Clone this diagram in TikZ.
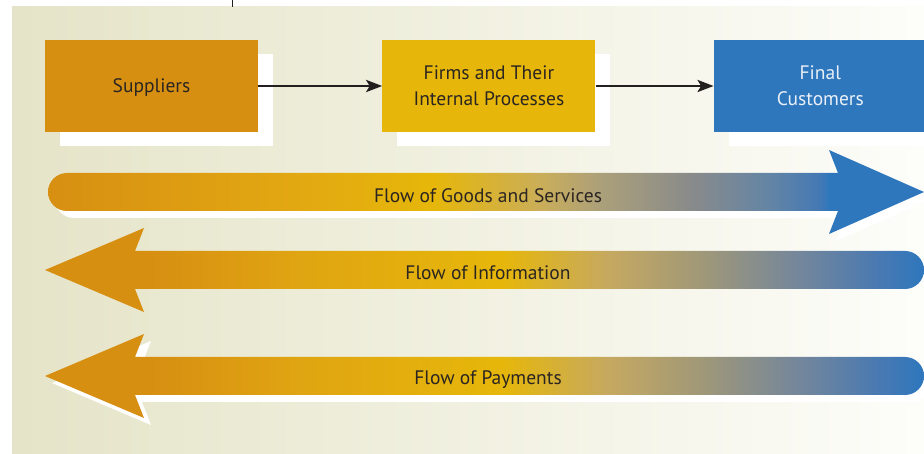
\documentclass[tikz,border=0pt]{standalone}
\usepackage{fontspec}
\setmainfont{PT Sans}
\usetikzlibrary{positioning,arrows.meta,shadows}

\definecolor{bgleft}{HTML}{E5E4C8}
\definecolor{bgright}{HTML}{FDFDFA}
\definecolor{darkline}{HTML}{231F1E}
\definecolor{supplierorange}{HTML}{D78F12}
\definecolor{firmyellow}{HTML}{E6B70A}
\definecolor{customerblue}{HTML}{2E77BD}
\definecolor{textdark}{HTML}{2B2522}
\definecolor{textlight}{HTML}{EAF0F7}

% horizontal colour runs of the big arrows (path box = 25bp..75bp)
\pgfdeclarehorizontalshading{rightflow}{100bp}{color(0bp)=(supplierorange); color(25bp)=(supplierorange);
  color(39bp)=(rgb,255:red,226;green,168;blue,18); color(47bp)=(firmyellow);
  color(53bp)=(rgb,255:red,203;green,174;blue,88); color(56.5bp)=(rgb,255:red,172;green,160;blue,122);
  color(62bp)=(rgb,255:red,135;green,138;blue,140); color(66bp)=(rgb,255:red,101;green,133;blue,164);
  color(69bp)=(rgb,255:red,69;green,121;blue,180); color(69.6bp)=(customerblue); color(100bp)=(customerblue)}
\pgfdeclarehorizontalshading{leftflow}{100bp}{color(0bp)=(supplierorange); color(31bp)=(supplierorange);
  color(39.5bp)=(rgb,255:red,224;green,165;blue,18); color(51bp)=(firmyellow);
  color(57bp)=(rgb,255:red,198;green,169;blue,96); color(62.3bp)=(rgb,255:red,160;green,152;blue,120);
  color(68bp)=(rgb,255:red,115;green,134;blue,156); color(72.5bp)=(rgb,255:red,72;green,121;blue,178);
  color(75bp)=(customerblue); color(100bp)=(customerblue)}

% outlines, #1 = centre line of the bar
\newcommand{\forwardflow}[1]{(67,-#1+19) arc[start angle=90,end angle=270,radius=19] -- (838,-#1-19) -- (829,-#1-42) -- (924,-#1) -- (829,-#1+42) -- (838,-#1+19) -- cycle}
\newcommand{\backwardflow}[1]{(905,-#1+19) arc[start angle=90,end angle=-90,radius=19] -- (135,-#1-19) -- (144,-#1-42) -- (45,-#1) -- (144,-#1+42) -- (135,-#1+19) -- cycle}

\tikzset{
	flowbox/.style ={rectangle, minimum width=213bp, minimum height=92bp, inner sep=0pt, align=center, text=textdark,
		font=\fontsize{19.5bp}{26bp}\selectfont, drop shadow={shadow xshift=15bp, shadow yshift=-14bp, fill=white, opacity=1}},
	flowline/.style = {-{Stealth[length=16bp,width=12bp,inset=3.5bp]}, line width=2.8bp, draw=darkline},
	flowlabel/.style = {anchor=base, inner sep=0pt, text=textdark, font=\fontsize{19.5bp}{26bp}\selectfont}
}

\begin{document}
\begin{tikzpicture}[x=1bp,y=1bp]
	\useasboundingbox (0,0) rectangle (924,-454);
	\shade[left color=bgleft, right color=bgright] (12,-7) rectangle (924,-454);
	\draw[darkline, line width=1.4bp] (232.5,0) -- (232.5,-7);
	% the three parties
	\node[flowbox, fill=supplierorange, text depth=0pt] (1) at (151.5,-86) {Suppliers};
	\node[flowbox, fill=firmyellow, right=124bp of 1] (2) {Firms and Their\\Internal Processes};
	\node[flowbox, fill=customerblue, text=textlight, right=118bp of 2] (3) {Final\\Customers};
	\draw[flowline] (1) -- (2);
	\draw[flowline] (2) -- (3);
	% the flows
	\fill[white, shift={(7,-7)}] \forwardflow{192};
	\shade[shading=rightflow] \forwardflow{192};
	\shade[shading=leftflow] \backwardflow{270};
	\fill[white, shift={(7,-7)}] \backwardflow{376};
	\shade[shading=leftflow] \backwardflow{376};
	\node[flowlabel] (4) at (488,-203) {Flow of Goods and Services};
	\node[flowlabel] (5) at (488,-280) {Flow of Information};
	\node[flowlabel] (6) at (488,-385) {Flow of Payments};
\end{tikzpicture}
\end{document}
